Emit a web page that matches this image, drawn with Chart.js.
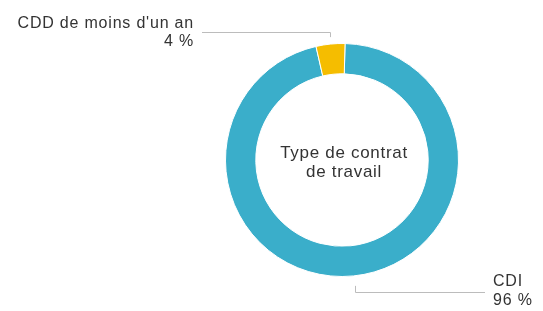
<!DOCTYPE html>
<html>
<head>
<meta charset="utf-8">
<script src="https://cdn.jsdelivr.net/npm/chart.js@4"></script>
<style>
  html, body { margin: 0; padding: 0; background: #fff; }
  #wrap { width: 543px; height: 311px; position: relative; }
</style>
</head>
<body>
<div id="wrap"><canvas id="c" width="543" height="311"></canvas></div>
<script>
const categories = ["CDI", "CDD de moins d'un an"];
const values = [96, 4];
const valueLabels = ["96 %", "4 %"];
const colors = ["#3AAECA", "#F5BD00"];
const centerTitle = ["Type de contrat", "de travail"];

const FONT = '"Liberation Sans", Arial, Helvetica, sans-serif';

const calloutPlugin = {
  id: 'callouts',
  afterDatasetsDraw(chart) {
    const ctx = chart.ctx;
    const meta = chart.getDatasetMeta(0);
    const arc0 = meta.data[0];
    const cx = arc0.x, cy = arc0.y;
    ctx.save();
    // center title
    ctx.fillStyle = '#333333';
    ctx.font = '17px ' + FONT;
    ctx.letterSpacing = '0.7px';
    ctx.textAlign = 'center';
    ctx.textBaseline = 'middle';
    ctx.fillText(centerTitle[0], cx + 2, cy - 7);
    ctx.fillText(centerTitle[1], cx + 2, cy + 12);

    meta.data.forEach((arc, i) => {
      const mid = (arc.startAngle + arc.endAngle) / 2;
      const up = Math.sin(mid) < 0;
      const r = arc.outerRadius + (up ? 7 : 10);
      const px = cx + Math.cos(mid) * r;
      const py = cy + Math.sin(mid) * r;
      const ly = up ? py - 5 : py + 6;
      const endX = up ? 202 : 485;
      ctx.strokeStyle = '#bcbcbc';
      ctx.lineWidth = 1;
      ctx.beginPath();
      ctx.moveTo(Math.round(px) + 0.5, py);
      ctx.lineTo(Math.round(px) + 0.5, Math.round(ly) + 0.5);
      ctx.lineTo(endX, Math.round(ly) + 0.5);
      ctx.stroke();

      ctx.fillStyle = '#333333';
      ctx.font = '16px ' + FONT;
      ctx.letterSpacing = '0.8px';
      ctx.textBaseline = 'middle';
      if (up) {
        ctx.textAlign = 'right';
        ctx.fillText(categories[i], endX - 8, ly - 9);
        ctx.fillText(valueLabels[i], endX - 8, ly + 9);
      } else {
        ctx.textAlign = 'left';
        ctx.fillText(categories[i], endX + 8, ly - 10);
        ctx.fillText(valueLabels[i], endX + 8, ly + 9);
      }
    });
    ctx.restore();
  }
};

new Chart(document.getElementById('c'), {
  type: 'doughnut',
  data: {
    labels: categories,
    datasets: [{
      data: values,
      backgroundColor: colors,
      borderColor: '#ffffff',
      borderWidth: 1
    }]
  },
  options: {
    responsive: false,
    animation: false,
    rotation: 1.5,
    cutout: '74%',
    layout: { padding: { left: 225, right: 84, top: 43, bottom: 34 } },
    plugins: {
      legend: { display: false },
      tooltip: { enabled: false }
    }
  },
  plugins: [calloutPlugin]
});
</script>
</body>
</html>
